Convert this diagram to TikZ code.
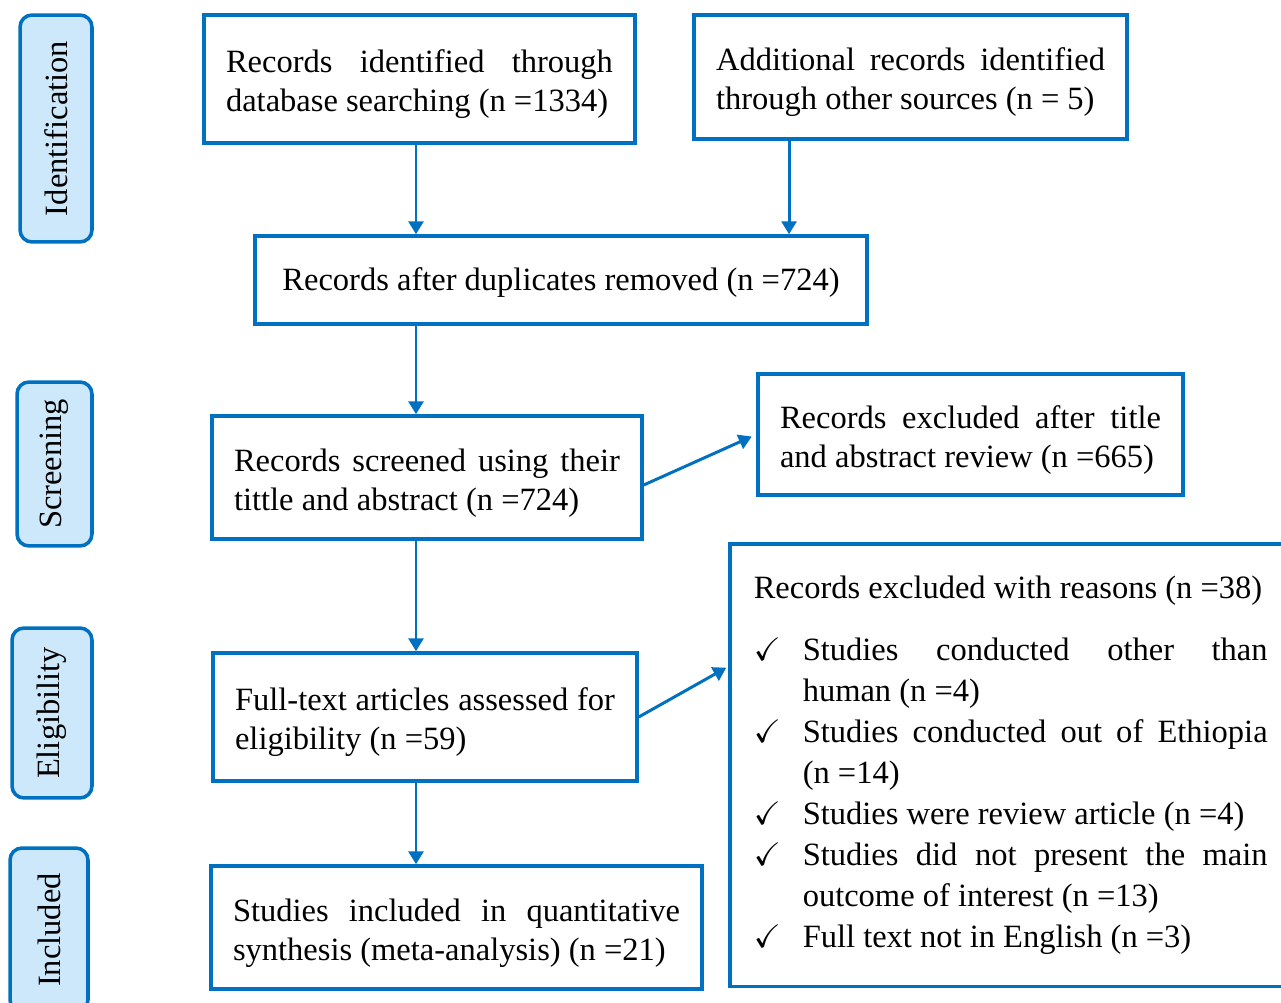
\documentclass[tikz,border=0pt]{standalone}
\usepackage{amssymb}
\usepackage{fontspec}
\setmainfont{Liberation Serif}
\usepackage{xcolor}
\usetikzlibrary{arrows.meta, positioning, calc}
\definecolor{prismablue}{RGB}{0,112,192}
\definecolor{phasefill}{RGB}{205,232,250}
\hyphenpenalty=10000
\newcommand{\boxfont}{\fontsize{18.5}{22.2}\selectfont}
\newcommand{\listfont}{\fontsize{18.5}{23.3}\selectfont}
\newcommand{\chkitem}[1]{\par\noindent\hangindent=0.98cm\hangafter=1\makebox[0.98cm][l]{$\checkmark$}#1}
\tikzstyle{stage} = [rectangle, draw=prismablue, line width=2pt, align=justify, inner xsep=0.44cm, font=\boxfont]
\tikzstyle{lowered} = [execute at begin node={\rule{0pt}{19pt}}]
\tikzstyle{phase} = [rectangle, rounded corners=0.24cm, draw=prismablue, fill=phasefill, line width=2pt, rotate=90, font=\boxfont, inner sep=0pt]
\tikzstyle{arrow} = [line width=1.7pt, draw=prismablue, -{Triangle[length=0.26cm,width=0.3cm]}]

\begin{document}
\begin{tikzpicture}[x=0.02cm, y=-0.02cm]
\useasboundingbox (0,0) rectangle (1281,1003);

% Phases
\node[phase, minimum width=4.54cm, minimum height=1.44cm] (ident) at (56,128.5) {Identification};
\node[phase, minimum width=3.28cm, minimum height=1.5cm] (scr) at (54.5,464) {Screening};
\node[phase, minimum width=3.4cm, minimum height=1.6cm] (elig) at (52,713) {Eligibility};
\node[phase, minimum width=3.28cm, minimum height=1.56cm] (inc) at (49,930) {Included};

% Identification
\node[stage, lowered, text width=7.74cm, minimum height=2.56cm] (dbsearch) at (419.5,79) {Records identified through database searching (n =1334)};
\node[stage, lowered, text width=7.78cm, minimum height=2.48cm] (other) at (910.5,77) {Additional records identified through other sources (n = 5)};
\node[stage, align=center, minimum width=12.24cm, minimum height=1.76cm, text height=0.5cm, text depth=0.06cm] (dedup) at (561,280) {Records after duplicates removed (n =724)};

% Screening
\node[stage, lowered, text width=7.72cm, minimum height=2.46cm] (screen) at (427,477.5) {Records screened using their tittle and abstract (n =724)};
\node[stage, lowered, text width=7.62cm, minimum height=2.42cm] (exclA) at (970.5,434.5) {Records excluded after title and abstract review (n =665)};

% Eligibility
\node[stage, lowered, text width=7.6cm, minimum height=2.56cm] (fulltext) at (425,717) {Full-text articles assessed for eligibility (n =59)};
\node[stage, text width=10.28cm, inner xsep=0.48cm, minimum height=8.86cm, font=\listfont, anchor=north west] (exclB) at (728,542) {Records excluded with reasons (n =38)\par\vspace{0.42cm}%
\chkitem{Studies conducted other than\linebreak human (n =4)}
\chkitem{Studies conducted out of Ethiopia\linebreak (n =14)}
\chkitem{Studies were review article (n =4)}
\chkitem{Studies did not present the main\linebreak outcome of interest (n =13)}
\chkitem{Full text not in English (n =3)}};

% Included
\node[stage, lowered, text width=8.94cm, minimum height=2.46cm] (incl) at (456.5,927.5) {Studies included in quantitative synthesis (meta-analysis) (n =21)};

% Arrows
\draw[arrow] ([xshift=-0.07cm]dbsearch.south) -- ([xshift=-0.07cm]dbsearch.south |- dedup.north);
\draw[arrow] ([xshift=-2.43cm]other.south) -- ([xshift=-2.43cm]other.south |- dedup.north);
\draw[arrow] (dedup.south -| 416,0) -- (screen.north -| 416,0);
\draw[arrow] (screen.south -| 416,0) -- (fulltext.north -| 416,0);
\draw[arrow] (fulltext.south -| 416,0) -- (incl.north -| 416,0);
\draw[arrow, shorten >=0.1cm] ([yshift=-0.15cm]screen.east) -- (exclA.west);
\draw[arrow, shorten >=0.04cm] (fulltext.east) -- ([yshift=1.97cm]exclB.west);
\end{tikzpicture}
\end{document}
